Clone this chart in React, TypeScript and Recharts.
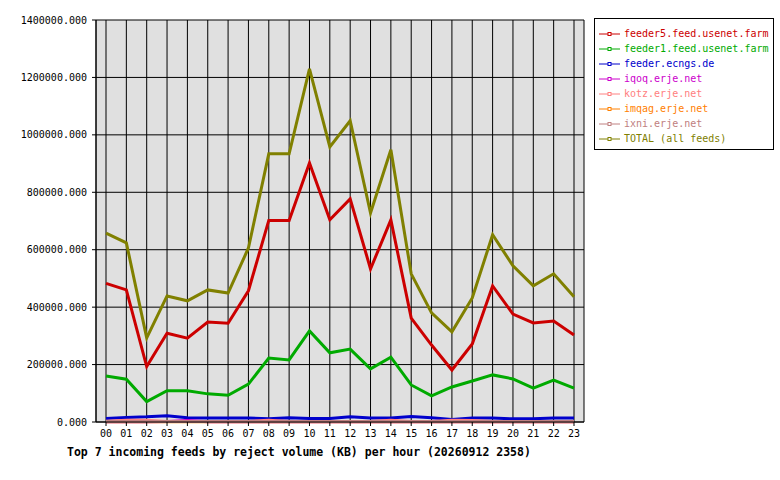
import { LineChart, Line, XAxis, YAxis, CartesianGrid } from "recharts";

const hours = ["00", "01", "02", "03", "04", "05", "06", "07", "08", "09", "10", "11",
    "12", "13", "14", "15", "16", "17", "18", "19", "20", "21", "22", "23"];

const feeder5 = [483000, 460000, 193000, 309000, 292000, 348000, 344000, 457000, 702000, 702000, 902000, 704000,
    777000, 533000, 704000, 362000, 268000, 181000, 272000, 474000, 376000, 345000, 352000, 303000];
const feeder1 = [160000, 149000, 71000, 109000, 109000, 98000, 93000, 132000, 223000, 216000, 317000, 241000,
    254000, 185000, 226000, 129000, 91000, 122000, 143000, 164000, 150000, 118000, 146000, 118000];
const ecngs = [12000, 16000, 18000, 22000, 15000, 14000, 14000, 14000, 11000, 15000, 12000, 12000,
    18000, 14000, 14000, 19000, 15000, 9000, 14000, 14000, 11000, 11000, 14000, 14000];
const iqoq = [1000, 1000, 1000, 2000, 5000, 1000, 1000, 1000, 1000, 1000, 1000, 1000,
    1000, 1000, 1000, 1000, 1000, 1000, 1000, 1000, 1000, 1000, 1000, 1000];
const kotz = [3000, 6000, 6000, 2000, 2000, 2000, 2000, 2000, 6000, 2000, 2000, 2000,
    2000, 2000, 6000, 2000, 2000, 6000, 5000, 2000, 2000, 2000, 2000, 2000];
const imqag = [1000, 1000, 1000, 1000, 1000, 1000, 1000, 1000, 1000, 1000, 1000, 1000,
    1000, 1000, 1000, 1000, 1000, 1000, 1000, 1000, 1000, 1000, 1000, 1000];
const ixni = [2000, 2000, 2000, 2000, 2000, 2000, 2000, 2000, 2000, 2000, 2000, 2000,
    2000, 2000, 2000, 2000, 2000, 2000, 2000, 2000, 2000, 2000, 2000, 2000];
const total = [658000, 624000, 293000, 439000, 422000, 460000, 449000, 606000, 934000, 934000, 1230000, 958000,
    1049000, 728000, 948000, 516000, 380000, 314000, 432000, 652000, 544000, 474000, 516000, 436000];

const yTicks = [0, 200000, 400000, 600000, 800000, 1000000, 1200000, 1400000];

const SERIES = [
    { key: "feeder5", name: "feeder5.feed.usenet.farm", color: "#cc0000", values: feeder5 },
    { key: "feeder1", name: "feeder1.feed.usenet.farm", color: "#00aa00", values: feeder1 },
    { key: "ecngs", name: "feeder.ecngs.de", color: "#0000cc", values: ecngs },
    { key: "iqoq", name: "iqoq.erje.net", color: "#cc00cc", values: iqoq },
    { key: "kotz", name: "kotz.erje.net", color: "#ff8080", values: kotz },
    { key: "imqag", name: "imqag.erje.net", color: "#ff8000", values: imqag },
    { key: "ixni", name: "ixni.erje.net", color: "#c08080", values: ixni },
    { key: "total", name: "TOTAL (all feeds)", color: "#808000", values: total },
];

const data = hours.map((hour, i) => {
    const row: Record<string, string | number> = { hour };
    SERIES.forEach((s) => {
        row[s.key] = s.values[i];
    });
    return row;
});

const FONT = "'DejaVu Sans Mono', monospace";

const FeedLegend = () => (
    <div
        style={{
            position: "absolute",
            left: 594,
            top: 18,
            width: 178,
            height: 123,
            border: "1px solid #000",
            background: "#fff",
            fontFamily: FONT,
            fontSize: 10,
            paddingTop: 7,
        }}
    >
        {SERIES.map((s) => (
            <div key={s.key} style={{ display: "flex", alignItems: "center", height: 15, color: s.color }}>
                <svg width={26} height={10} style={{ marginLeft: 3 }}>
                    <line x1={1} y1={5} x2={22} y2={5} stroke={s.color} strokeWidth={1} />
                    <rect x={10} y={3.5} width={3} height={3} fill="#fff" stroke={s.color} strokeWidth={1} />
                </svg>
                <span style={{ whiteSpace: "pre" }}>{s.name}</span>
            </div>
        ))}
    </div>
);

export default function App() {
    return (
        <div style={{ position: "absolute", left: 0, top: 0, width: 780, height: 480, background: "#fff" }}>
            <LineChart
                width={780}
                height={480}
                data={data}
                margin={{ top: 20, right: 196, left: 0, bottom: 28 }}
            >
                <CartesianGrid stroke="#000" fill="#e0e0e0" strokeWidth={1} />
                <XAxis
                    dataKey="hour"
                    interval={0}
                    padding={{ left: 10, right: 10 }}
                    height={30}
                    tickSize={4}
                    tickMargin={4}
                    stroke="#000"
                    tick={{ fill: "#000", fontSize: 10, fontFamily: FONT }}
                />
                <YAxis
                    width={96}
                    domain={[0, 1400000]}
                    ticks={yTicks}
                    tickSize={4}
                    tickMargin={5}
                    stroke="#000"
                    tickFormatter={(v: number) => v.toFixed(3)}
                    tick={{ fill: "#000", fontSize: 10, fontFamily: FONT }}
                />
                <YAxis yAxisId="r" orientation="right" width={0} tick={false} stroke="#000" />
                {SERIES.map((s) => (
                    <Line
                        key={s.key}
                        dataKey={s.key}
                        name={s.name}
                        stroke={s.color}
                        strokeWidth={3}
                        dot={false}
                        type="linear"
                        isAnimationActive={false}
                    />
                ))}
            </LineChart>
            <FeedLegend />
            <div
                style={{
                    position: "absolute",
                    left: 67,
                    top: 445,
                    fontFamily: FONT,
                    fontSize: 11.5,
                    fontWeight: "bold",
                    whiteSpace: "pre",
                }}
            >
                Top 7 incoming feeds by reject volume (KB) per hour (20260912 2358)
            </div>
        </div>
    );
}
